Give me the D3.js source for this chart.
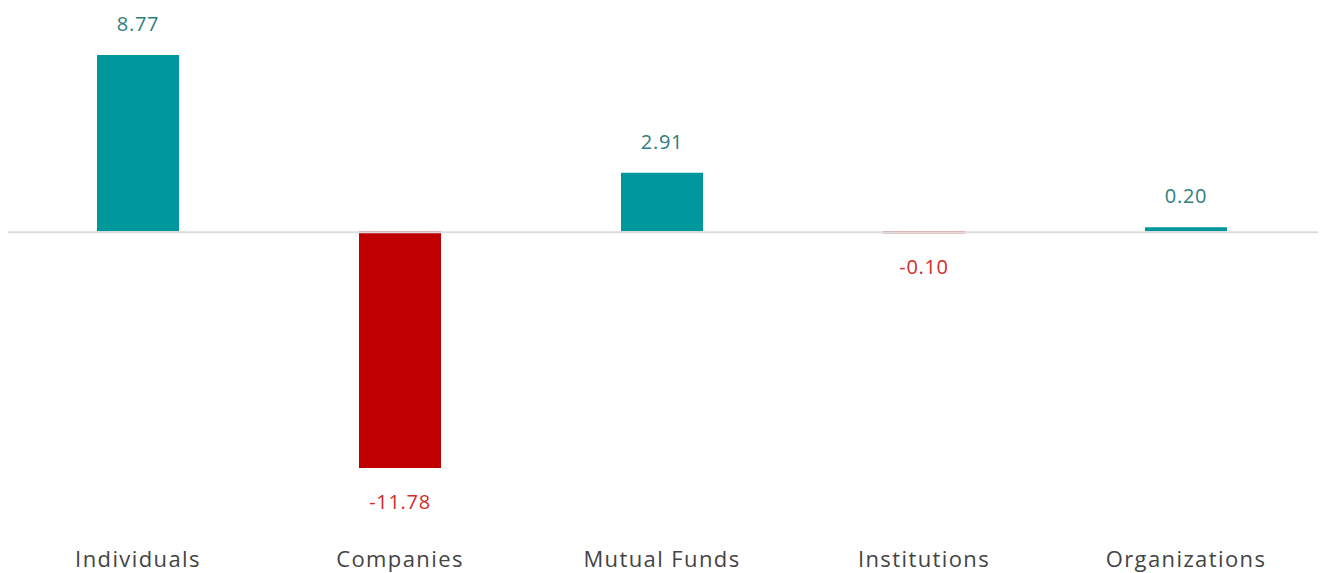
<!DOCTYPE html>
<html>
<head>
<meta charset="utf-8">
<script src="https://cdn.jsdelivr.net/npm/d3@7"></script>
<style>
  body { margin: 0; background: #fff; }
  text { font-family: 'Open Sans', Lato, sans-serif; }
</style>
</head>
<body>
<div id="chart-area"></div>
<script>
const categories = ['Individuals', 'Companies', 'Mutual Funds', 'Institutions', 'Organizations'];
const values = [8.77, -11.78, 2.91, -0.10, 0.20];
const valueLabels = ['8.77', '-11.78', '2.91', '-0.10', '0.20'];

(() => {
  const width = 1324;
  const height = 573;

  const data = categories.map((c, i) => ({ name: c, value: values[i], label: valueLabels[i] }));

  const scaleX = d3.scaleBand()
    .domain(categories)
    .range([7, 1317])
    .paddingInner(0.687)
    .paddingOuter(0.3435);

  // 0 sits at y=231, about 20.07 px per unit
  const scaleY = d3.scaleLinear()
    .domain([-11.78, 8.77])
    .range([468, 55]);

  const svg = d3.select('#chart-area').append('svg')
    .attr('width', width)
    .attr('height', height);

  svg.selectAll('rect.bar')
    .data(data)
    .enter()
    .append('rect')
      .attr('class', 'bar')
      .attr('x', d => scaleX(d.name))
      .attr('y', d => scaleY(Math.max(0, d.value)))
      .attr('width', scaleX.bandwidth())
      .attr('height', d => Math.abs(scaleY(d.value) - scaleY(0)))
      .attr('fill', d => d.value >= 0 ? '#00979d' : '#c00000');

  svg.append('line')
    .attr('x1', 8)
    .attr('x2', 1318)
    .attr('y1', scaleY(0) + 1)
    .attr('y2', scaleY(0) + 1)
    .attr('stroke', '#dcdcdc')
    .attr('stroke-width', 2);

  svg.selectAll('text.value')
    .data(data)
    .enter()
    .append('text')
      .attr('class', 'value')
      .text(d => d.label)
      .attr('x', d => scaleX(d.name) + scaleX.bandwidth() / 2)
      .attr('y', d => d.value >= 0 ? scaleY(d.value) - 24 : scaleY(d.value) + 41)
      .attr('text-anchor', 'middle')
      .attr('font-size', '20px')
      .attr('letter-spacing', '0.7px')
      .attr('fill', d => d.value >= 0 ? '#2b8080' : '#d42b2b');

  const axisX = d3.axisBottom(scaleX).tickSize(0).tickPadding(0);

  const gx = svg.append('g')
    .attr('transform', 'translate(0, 551)')
    .call(axisX);
  gx.select('.domain').remove();
  gx.selectAll('text')
    .attr('font-size', '22px')
    .attr('font-family', "'Open Sans', Lato, sans-serif")
    .attr('letter-spacing', '1.4px')
    .attr('fill', '#444')
    .attr('dy', '0.71em');
})();
</script>
</body>
</html>
